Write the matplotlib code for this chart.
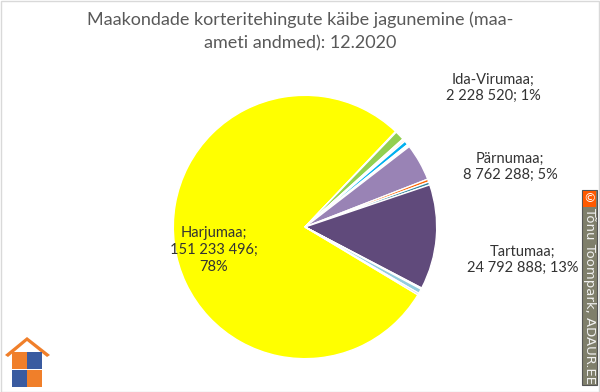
import matplotlib
matplotlib.use('Agg')
import matplotlib.pyplot as plt
from matplotlib.patches import Rectangle, Polygon
import numpy as np

plt.rcParams['font.family'] = ['Lato', 'DejaVu Sans']

# turnover by county, EUR (small counties)
counties = ['Harjumaa', 'Hiiumaa', 'Ida-Virumaa', 'Jõgevamaa', 'Järvamaa',
            'Lääne-Virumaa', 'Läänemaa', 'Põlvamaa', 'Pärnumaa', 'Raplamaa',
            'Saaremaa', 'Tartumaa', 'Valgamaa', 'Viljandimaa', 'Võrumaa']
turnover = [151233496, 200000, 2228520, 300000, 400000,
            1000000, 350000, 250000, 8762288, 700000,
            700000, 24792888, 300000, 1100000, 400000]
colors = ['#FFFF00', '#FFD966', '#92D050', '#FFC000', '#F4B183',
          '#00B0F0', '#C5E0B4', '#F8CBAD', '#9983B5', '#FF6600',
          '#31859C', '#604A7B', '#B7DEE8', '#93CDDD', '#B3A2C7']
labelled = ['Harjumaa', 'Ida-Virumaa', 'Pärnumaa', 'Tartumaa']
# label centres in pixels (x, y from top)
label_pos = {'Ida-Virumaa': (493, 88), 'Pärnumaa': (510, 167),
             'Tartumaa': (523, 260), 'Harjumaa': (214, 250)}

W, H = 600, 392
fig = plt.figure(figsize=(6, 3.92), dpi=100)

cx, cy, r = 305, 227, 133
ax = fig.add_axes([(cx - r) / W, (H - cy - r) / H, 2 * r / W, 2 * r / H])
ax.pie(turnover, colors=colors, startangle=-31, counterclock=False, radius=1,
       wedgeprops=dict(edgecolor='white', linewidth=1.0))
ax.set_xlim(-1.01, 1.01)
ax.set_ylim(-1.01, 1.01)
ax.set_aspect('equal')
ax.axis('off')

total = sum(turnover)
def fmt(v):
    return '{:,}'.format(v).replace(',', ' ')

for name in labelled:
    v = turnover[counties.index(name)]
    pct = round(100 * v / total)
    if name == 'Harjumaa':
        txt = '%s;\n%s;\n%d%%' % (name, fmt(v), pct)
    else:
        txt = '%s;\n%s; %d%%' % (name, fmt(v), pct)
    x, y = label_pos[name]
    fig.text(x / W, 1 - y / H, txt, ha='center', va='center', fontsize=10.5,
             color='#333333', linespacing=1.25)

fig.text(0.5, 1 - 31 / H, 'Maakondade korteritehingute käibe jagunemine (maa-\nameti andmed): 12.2020',
         ha='center', va='center', fontsize=13, color='#595959', linespacing=1.55)

# chart border
fig.patches.append(Rectangle((0.5 / W, 0.5 / H), 1 - 1.5 / W, 1 - 1.5 / H,
                             transform=fig.transFigure, fill=False,
                             edgecolor='#D9D9D9', linewidth=1))

# copyright strip
fig.patches.append(Rectangle((582 / W, 1 - 385 / H), 15 / W, 195 / H,
                             transform=fig.transFigure, facecolor='#7F7F6B',
                             edgecolor='#555555', linewidth=0.8))
fig.patches.append(Rectangle((583 / W, 1 - 207 / H), 13 / W, 16 / H,
                             transform=fig.transFigure, facecolor='#FF5A00',
                             edgecolor='none'))
fig.text(589.5 / W, 1 - 199 / H, '©', ha='center', va='center', fontsize=9,
         color='white', family='DejaVu Sans')
fig.text(589.5 / W, 1 - 296 / H, 'Tõnu Toompark, ADAUR.EE', ha='center',
         va='center', fontsize=9.5, color='#F0F0F0', rotation=-90,
         family='DejaVu Sans')

# logo: roof and puzzle squares
fig.patches.append(Polygon([(5 / W, 1 - 355 / H), (27 / W, 1 - 337 / H),
                            (50 / W, 1 - 355 / H), (47 / W, 1 - 357 / H),
                            (27 / W, 1 - 341 / H), (8 / W, 1 - 357 / H)],
                           closed=True, transform=fig.transFigure,
                           facecolor='#F07F2A', edgecolor='none'))
sq = [(12, 352, '#F07F2A'), (27, 352, '#3A5BA0'),
      (12, 370, '#3A5BA0'), (27, 370, '#F07F2A')]
for x, y, c in sq:
    fig.patches.append(Rectangle((x / W, 1 - (y + 17) / H), 15 / W, 17 / H,
                                 transform=fig.transFigure, facecolor=c,
                                 edgecolor='none'))

fig.savefig('out.png', dpi=100)
